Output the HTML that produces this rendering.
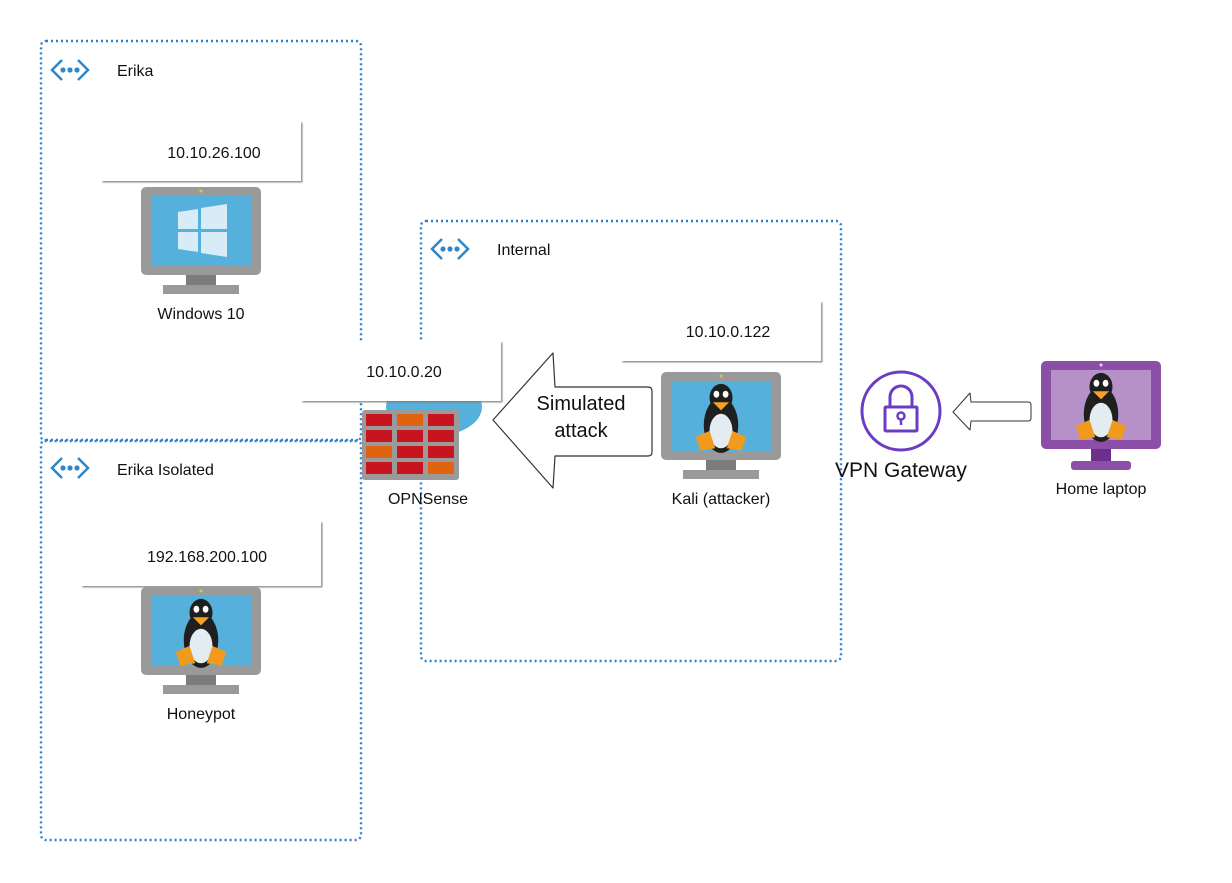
<!DOCTYPE html>
<html><head><meta charset="utf-8"><style>
html,body{margin:0;padding:0;background:#fff;}
svg{display:block;}
text{font-family:"Liberation Sans",sans-serif;fill:#111;}
</style></head><body>
<svg width="1232" height="883" viewBox="0 0 1232 883" xmlns="http://www.w3.org/2000/svg">
<defs>
  <g id="peng0">
    <ellipse cx="60" cy="50" rx="15" ry="24" fill="#1f1f1f"/>
    <ellipse cx="60" cy="26" rx="10" ry="12" fill="#1f1f1f"/>
    <ellipse cx="60" cy="55" rx="10" ry="15" fill="#e3ecf0"/>
    <ellipse cx="56" cy="23" rx="2.5" ry="3" fill="#fff"/>
    <ellipse cx="64" cy="23" rx="2.5" ry="3" fill="#fff"/>
    <path d="M53 30 L67 30 L60 37 Z" fill="#f4a21f"/>
    <path d="M38 60 L50 55 L55 70 L42 72 Z" fill="#f19a1e"/>
    <path d="M82 60 L70 55 L65 70 L78 72 Z" fill="#f19a1e"/>
  </g>
  <g id="peng"><use href="#peng0" transform="translate(60,51) scale(1.15) translate(-60,-48)"/></g>
  <g id="mon">
    <rect x="0" y="0" width="120" height="88" rx="5" fill="#9a9a9a"/>
    <rect x="10" y="9" width="100" height="70" fill="#55b1dc"/>
    <circle cx="60" cy="4" r="1.5" fill="#e0c060"/>
    <path d="M45 88 H75 V98 H45 Z" fill="#7c7c7c"/>
    <rect x="22" y="98" width="76" height="9" fill="#9a9a9a"/>
  </g>
  <g id="net">
    <path d="M12 0 L2 10 L12 20" fill="none" stroke="#2f86c8" stroke-width="2.5"/>
    <path d="M28 0 L38 10 L28 20" fill="none" stroke="#2f86c8" stroke-width="2.5"/>
    <circle cx="13" cy="10" r="2.6" fill="#2f86c8"/>
    <circle cx="20" cy="10" r="2.6" fill="#2f86c8"/>
    <circle cx="27" cy="10" r="2.6" fill="#2f86c8"/>
  </g>
  <filter id="sh" x="-5%" y="-5%" width="110%" height="115%">
    <feDropShadow dx="1.5" dy="1.5" stdDeviation="0.8" flood-color="#777" flood-opacity="0.8"/>
  </filter>
</defs>

<g fill="none" stroke="#2f7fd0" stroke-width="2.4" stroke-dasharray="2 3">
  <rect x="41" y="41" width="320" height="400" rx="5"/>
  <rect x="41" y="440" width="320" height="400" rx="5"/>
  <rect x="421" y="221" width="420" height="440" rx="5"/>
</g>

<use href="#net" x="50" y="60"/>
<text x="117" y="76" font-size="16">Erika</text>
<use href="#net" x="50" y="458"/>
<text x="117" y="475" font-size="16">Erika Isolated</text>
<use href="#net" x="430" y="239"/>
<text x="497" y="255" font-size="16">Internal</text>

<g fill="#fff" filter="url(#sh)">
  <rect x="101" y="121" width="200" height="60"/>
  <rect x="81" y="521" width="240" height="65"/>
  <rect x="621" y="301" width="200" height="60"/>
</g>
<text x="214" y="158" font-size="16" text-anchor="middle">10.10.26.100</text>
<text x="207" y="562" font-size="16" text-anchor="middle">192.168.200.100</text>
<text x="728" y="337" font-size="16" text-anchor="middle">10.10.0.122</text>

<use href="#mon" x="141" y="187"/>
<g fill="#d8ecf7">
  <path d="M178 212 L198 209 V229 H178 Z"/>
  <path d="M201 208 L227 204 V229 H201 Z"/>
  <path d="M178 232 H198 V252 L178 249 Z"/>
  <path d="M201 232 H227 V257 L201 253 Z"/>
</g>
<text x="201" y="319" font-size="16" text-anchor="middle">Windows 10</text>

<use href="#mon" x="141" y="587"/>
<use href="#peng" x="141" y="587"/>
<text x="201" y="719" font-size="16" text-anchor="middle">Honeypot</text>

<use href="#mon" x="661" y="372"/>
<use href="#peng" x="661" y="372"/>
<text x="721" y="504" font-size="16" text-anchor="middle">Kali (attacker)</text>

<g transform="translate(1041,361)">
  <rect x="0" y="0" width="120" height="88" rx="5" fill="#8c4fa8"/>
  <rect x="10" y="9" width="100" height="70" fill="#b591c7"/>
  <circle cx="60" cy="4" r="1.5" fill="#f0d0f0"/>
  <path d="M50 88 H70 V100 H50 Z" fill="#6e2f8c"/>
  <rect x="30" y="100" width="60" height="9" rx="3" fill="#8c4fa8"/>
</g>
<use href="#peng" x="1041" y="361"/>
<text x="1101" y="494" font-size="16" text-anchor="middle">Home laptop</text>

<ellipse cx="434" cy="407" rx="48" ry="29" fill="#55b1dc"/>
<rect x="301" y="341" width="200" height="60" fill="#fff" filter="url(#sh)"/>
<text x="404" y="377" font-size="16" text-anchor="middle">10.10.0.20</text>
<rect x="362" y="410" width="97" height="70" rx="3" fill="#9a9a9a"/>
<g>
  <rect x="366" y="414" width="26" height="12" fill="#c8141e"/>
  <rect x="397" y="414" width="26" height="12" fill="#e0640f"/>
  <rect x="428" y="414" width="26" height="12" fill="#c8141e"/>
  <rect x="366" y="430" width="26" height="12" fill="#c8141e"/>
  <rect x="397" y="430" width="26" height="12" fill="#c8141e"/>
  <rect x="428" y="430" width="26" height="12" fill="#c8141e"/>
  <rect x="366" y="446" width="26" height="12" fill="#e0640f"/>
  <rect x="397" y="446" width="26" height="12" fill="#c8141e"/>
  <rect x="428" y="446" width="26" height="12" fill="#c8141e"/>
  <rect x="366" y="462" width="26" height="12" fill="#c8141e"/>
  <rect x="397" y="462" width="26" height="12" fill="#c8141e"/>
  <rect x="428" y="462" width="26" height="12" fill="#e0640f"/>
</g>
<text x="428" y="504" font-size="16" text-anchor="middle">OPNSense</text>

<path d="M493 420 L553 353 L555 387 L648 387 Q652 387 652 391 L652 452 Q652 456 648 456 L555 456 L553 488 Z" fill="#fff" stroke="#333" stroke-width="1.2" stroke-linejoin="round"/>
<text x="581" y="410" font-size="20" text-anchor="middle" fill="#333">Simulated</text>
<text x="581" y="437" font-size="20" text-anchor="middle" fill="#333">attack</text>

<circle cx="901" cy="411" r="39" fill="none" stroke="#6b3cc4" stroke-width="3"/>
<path d="M890 407 V397 A11 11 0 0 1 912 397 V407" fill="none" stroke="#6b3cc4" stroke-width="3"/>
<rect x="885" y="407" width="32" height="24" rx="1" fill="none" stroke="#6b3cc4" stroke-width="3"/>
<circle cx="901" cy="416" r="3.5" fill="none" stroke="#6b3cc4" stroke-width="2.5"/>
<line x1="901" y1="419" x2="901" y2="425" stroke="#6b3cc4" stroke-width="2.5"/>
<text x="901" y="477" font-size="21" text-anchor="middle" fill="#444">VPN Gateway</text>

<path d="M953 412 L970 393 L971 402 L1028 402 Q1031 402 1031 405 L1031 418 Q1031 421 1028 421 L971 421 L970 430 Z" fill="#fff" stroke="#333" stroke-width="1" stroke-linejoin="round"/>
</svg>
</body></html>
